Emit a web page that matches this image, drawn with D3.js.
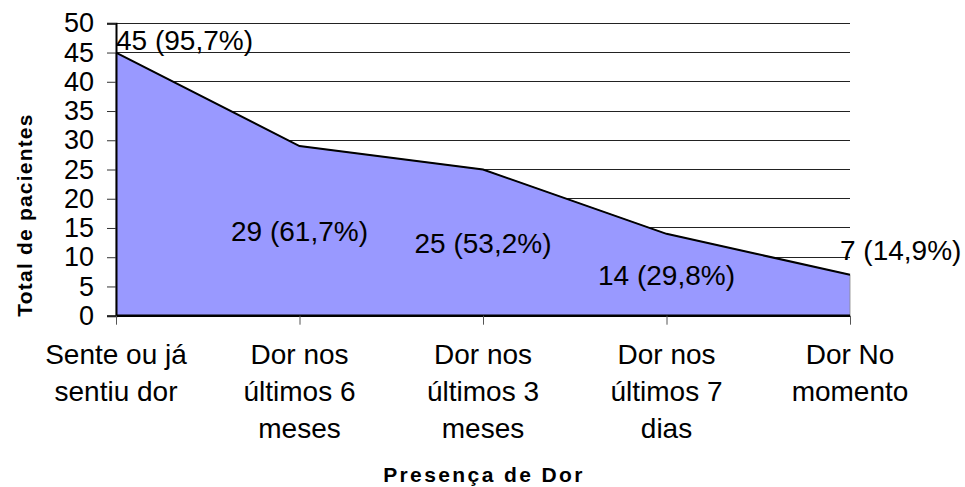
<!DOCTYPE html>
<html><head><meta charset="utf-8">
<script src="https://cdn.jsdelivr.net/npm/d3@7"></script>
<style>html,body{margin:0;padding:0;background:#fff;}svg{display:block;font-family:"Liberation Sans",Arial,sans-serif;}</style>
</head><body>
<svg id="c" width="965" height="487"></svg>
<script>
const categories = [["Sente ou já","sentiu dor"],["Dor nos","últimos 6","meses"],["Dor nos","últimos 3","meses"],["Dor nos","últimos 7","dias"],["Dor No","momento"]];
const values = [45, 29, 25, 14, 7];
const percents = ["95,7%", "61,7%", "53,2%", "29,8%", "14,9%"];
const yTicks = [0,5,10,15,20,25,30,35,40,45,50];

(function(){
const svg = d3.select("#c");
const mLeft = 116, mRight = 850, mTop = 23.3, mBottom = 315.7;
const x = d3.scalePoint().domain(d3.range(values.length)).range([mLeft, mRight]);
const y = d3.scaleLinear().domain([0, 50]).range([mBottom, mTop]);

// gridlines
svg.append("g").selectAll("line").data(yTicks.filter(d => d > 0)).join("line")
  .attr("x1", mLeft).attr("x2", mRight).attr("y1", d => y(d)).attr("y2", d => y(d))
  .attr("stroke", "#222").attr("stroke-width", 1).attr("shape-rendering","crispEdges");

// area
const area = d3.area().x((d,i) => x(i)).y0(y(0)).y1(d => y(d));
svg.append("path").datum(values).attr("d", area).attr("fill", "#9999FF").attr("stroke","#888").attr("stroke-width",0.8);
const line = d3.line().x((d,i) => x(i)).y(d => y(d));
svg.append("path").datum(values).attr("d", line).attr("fill","none").attr("stroke","#000").attr("stroke-width",2);

// y axis
const yAxis = svg.append("g").attr("transform", `translate(${mLeft},0)`)
  .call(d3.axisLeft(y).tickValues(yTicks).tickSize(9).tickPadding(13));
yAxis.select(".domain").attr("stroke","#000").attr("stroke-width",2);
yAxis.selectAll(".tick line").attr("stroke","#333");
yAxis.selectAll(".tick text").attr("font-size", 27).attr("fill","#000")
  .attr("font-family","Liberation Sans, Arial, sans-serif");

// x axis
const xAxis = svg.append("g").attr("transform", `translate(0,${mBottom})`)
  .call(d3.axisBottom(x).tickSize(9).tickFormat(""));
xAxis.select(".domain").attr("stroke","#000").attr("stroke-width",2.5).attr("d", `M${mLeft},0H${mRight}`);
xAxis.selectAll(".tick line").attr("stroke","#555");

// category labels
const cat = svg.append("g").selectAll("text").data(categories).join("text")
  .attr("text-anchor","middle").attr("font-size",28).attr("fill","#000")
  .attr("transform",(d,i)=>`translate(${x(i)},364)`);
cat.selectAll("tspan").data(d => d).join("tspan")
  .attr("x",0).attr("y",(d,j)=>j*36.8).text(d=>d);

// data labels
svg.append("g").selectAll("text").data(values).join("text")
  .attr("font-size",28).attr("fill","#000")
  .text((d,i)=>`${d} (${percents[i]})`)
  .each(function(d,i){
    const s = d3.select(this);
    if (i === 0) {
      s.attr("x", x(i)).attr("y", y(d) - 3).attr("text-anchor","start");
    } else if (i === values.length - 1) {
      s.attr("x", x(i) - 10).attr("y", y(d) - 15).attr("text-anchor","start");
    } else {
      s.attr("x", x(i)).attr("y", (y(d) + y(0)) / 2 + 10).attr("text-anchor","middle");
    }
  });

// axis titles
svg.append("text").attr("x", 484).attr("y", 482).attr("text-anchor","middle")
  .attr("font-size",21).attr("font-weight","bold").attr("letter-spacing","2.4px").text("Presença de Dor");
svg.append("text").attr("transform","translate(32,215) rotate(-90)").attr("text-anchor","middle")
  .attr("font-size",21).attr("font-weight","bold").attr("letter-spacing","1.2px").text("Total de pacientes");
})();
</script>
</body></html>
